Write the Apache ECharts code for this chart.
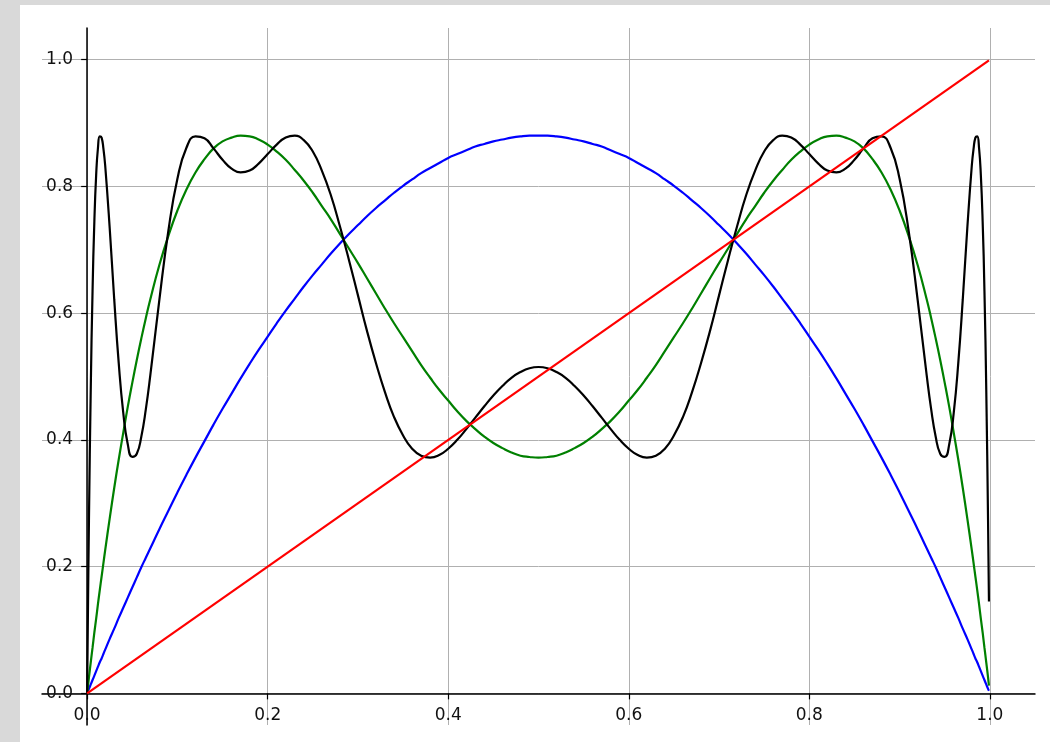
<!DOCTYPE html>
<html>
<head>
<meta charset="utf-8">
<title>Logistic map iterates</title>
<script src="https://cdn.jsdelivr.net/npm/echarts@6/dist/echarts.min.js"></script>
<style>
  html, body { margin: 0; padding: 0; background: #d9d9d9; }
  #chart { position: absolute; left: 20px; top: 5px; width: 1030px; height: 737px; background: #ffffff; }
</style>
</head>
<body>
<div id="chart"></div>
<script>
// Sample positions on [0, 1)
const xs = [
  0, 0.001, 0.002, 0.004, 0.006, 0.008, 0.01, 0.012, 0.014, 0.016, 0.018, 0.02,
  0.025, 0.03, 0.035, 0.04, 0.045, 0.05, 0.055, 0.06, 0.065,
  0.07, 0.08, 0.09, 0.1, 0.11, 0.12, 0.13, 0.14, 0.15, 0.16, 0.17, 0.18, 0.19, 0.2,
  0.21, 0.22, 0.23, 0.24, 0.25, 0.26, 0.27, 0.28, 0.29, 0.3, 0.31, 0.32, 0.33, 0.34, 0.35,
  0.36, 0.37, 0.38, 0.39, 0.4, 0.41, 0.42, 0.43, 0.44, 0.45, 0.46, 0.47, 0.48, 0.49, 0.5,
  0.51, 0.52, 0.53, 0.54, 0.55, 0.56, 0.57, 0.58, 0.59, 0.6, 0.61, 0.62, 0.63, 0.64, 0.65,
  0.66, 0.67, 0.68, 0.69, 0.7, 0.71, 0.72, 0.73, 0.74, 0.75, 0.76, 0.77, 0.78, 0.79, 0.8,
  0.81, 0.82, 0.83, 0.84, 0.85, 0.86, 0.87, 0.88, 0.89, 0.9, 0.91, 0.92, 0.93,
  0.935, 0.94, 0.945, 0.95, 0.955, 0.96, 0.965, 0.97, 0.975,
  0.98, 0.982, 0.984, 0.986, 0.988, 0.99, 0.992, 0.994, 0.996, 0.998, 0.999
];

// One step of the map (blue)
const mapOnce = [
  0, 0.004, 0.007, 0.014, 0.021, 0.028, 0.035, 0.042, 0.049, 0.055, 0.062, 0.069,
  0.086, 0.102, 0.119, 0.135, 0.151, 0.167, 0.183, 0.199, 0.214,
  0.229, 0.259, 0.288, 0.317, 0.345, 0.372, 0.398, 0.424, 0.449, 0.473, 0.497, 0.520, 0.542, 0.563,
  0.584, 0.604, 0.623, 0.642, 0.660, 0.677, 0.694, 0.710, 0.725, 0.739, 0.753, 0.766, 0.778, 0.790, 0.801,
  0.811, 0.821, 0.829, 0.837, 0.845, 0.851, 0.857, 0.863, 0.867, 0.871, 0.874, 0.877, 0.879, 0.880, 0.880,
  0.880, 0.879, 0.877, 0.874, 0.871, 0.867, 0.863, 0.857, 0.851, 0.845, 0.837, 0.829, 0.821, 0.811, 0.801,
  0.790, 0.778, 0.766, 0.753, 0.739, 0.725, 0.710, 0.694, 0.677, 0.660, 0.642, 0.623, 0.604, 0.584, 0.563,
  0.542, 0.520, 0.497, 0.473, 0.449, 0.424, 0.398, 0.372, 0.345, 0.317, 0.288, 0.259, 0.229,
  0.214, 0.199, 0.183, 0.167, 0.151, 0.135, 0.119, 0.102, 0.086,
  0.069, 0.062, 0.055, 0.049, 0.042, 0.035, 0.028, 0.021, 0.014, 0.007, 0.004
];

// Two steps (green)
const mapTwice = [
  0, 0.012, 0.025, 0.049, 0.072, 0.096, 0.118, 0.141, 0.163, 0.184, 0.205, 0.226,
  0.276, 0.324, 0.369, 0.411, 0.452, 0.490, 0.526, 0.560, 0.592,
  0.622, 0.676, 0.722, 0.762, 0.795, 0.822, 0.843, 0.860, 0.871, 0.877, 0.880, 0.879, 0.874, 0.866,
  0.855, 0.842, 0.826, 0.809, 0.790, 0.769, 0.748, 0.725, 0.702, 0.679, 0.655, 0.631, 0.607, 0.584, 0.562,
  0.540, 0.518, 0.498, 0.479, 0.462, 0.445, 0.430, 0.417, 0.405, 0.395, 0.387, 0.380, 0.375, 0.373, 0.372,
  0.373, 0.375, 0.380, 0.387, 0.395, 0.405, 0.417, 0.430, 0.445, 0.462, 0.479, 0.498, 0.518, 0.540, 0.562,
  0.584, 0.607, 0.631, 0.655, 0.679, 0.702, 0.725, 0.748, 0.769, 0.790, 0.809, 0.826, 0.842, 0.855, 0.866,
  0.874, 0.879, 0.880, 0.877, 0.871, 0.860, 0.843, 0.822, 0.795, 0.762, 0.722, 0.676, 0.622,
  0.592, 0.560, 0.526, 0.490, 0.452, 0.411, 0.369, 0.324, 0.276,
  0.226, 0.205, 0.184, 0.163, 0.141, 0.118, 0.096, 0.072, 0.049, 0.025, 0.012
];

// Four steps (black)
const mapFourTimes = [
  0, 0.145, 0.272, 0.480, 0.635, 0.745, 0.818, 0.861, 0.879, 0.877, 0.860, 0.833,
  0.734, 0.622, 0.521, 0.443, 0.393, 0.373, 0.378, 0.405, 0.448,
  0.502, 0.621, 0.730, 0.812, 0.861, 0.879, 0.876, 0.860, 0.842, 0.828, 0.822, 0.825, 0.836, 0.851,
  0.866, 0.877, 0.880, 0.873, 0.855, 0.825, 0.786, 0.737, 0.684, 0.628, 0.572, 0.521, 0.475, 0.436, 0.407,
  0.386, 0.375, 0.372, 0.376, 0.386, 0.400, 0.417, 0.435, 0.453, 0.470, 0.485, 0.498, 0.507, 0.513, 0.515,
  0.513, 0.507, 0.498, 0.485, 0.470, 0.453, 0.435, 0.417, 0.400, 0.386, 0.376, 0.372, 0.375, 0.386, 0.407,
  0.436, 0.475, 0.521, 0.572, 0.628, 0.684, 0.737, 0.786, 0.825, 0.855, 0.873, 0.880, 0.877, 0.866, 0.851,
  0.836, 0.825, 0.822, 0.828, 0.842, 0.860, 0.876, 0.879, 0.861, 0.812, 0.730, 0.621, 0.502,
  0.448, 0.405, 0.378, 0.373, 0.393, 0.443, 0.521, 0.622, 0.734,
  0.833, 0.860, 0.877, 0.879, 0.861, 0.818, 0.745, 0.635, 0.480, 0.272, 0.145
];

// Diagonal y = x (red)
const diagX = [0, 0.999];
const diagY = [0, 0.999];

const tickValues = [0, 0.2, 0.4, 0.6, 0.8, 1.0];

function pairs(xv, yv) {
  return xv.map((x, i) => [x, yv[i]]);
}

const axisFont = { fontFamily: 'DejaVu Sans', fontSize: 17, color: '#111111' };

// Spines sit at zero: shift each axis inward by the 0.05 padding of the range
function makeAxis(isX) {
  return {
    type: 'value',
    min: -0.05,
    max: 1.05,
    offset: isX ? -31.65 : -45.15,
    axisLine: { show: true, onZero: false, lineStyle: { color: '#000000', width: 1.5 } },
    axisTick: {
      show: true, inside: false, length: 6, customValues: tickValues,
      lineStyle: { color: '#000000', width: 1.2 }
    },
    axisLabel: Object.assign({
      show: true,
      customValues: tickValues,
      margin: isX ? 14 : 14,
      formatter: v => v.toFixed(1)
    }, axisFont),
    splitLine: { show: true, lineStyle: { color: '#b0b0b0', width: 1 } }
  };
}

const chart = echarts.init(document.getElementById('chart'), null, { renderer: 'canvas' });

const lineBase = { type: 'line', showSymbol: false, symbol: 'none', smooth: 0.5, animation: false };

chart.setOption({
  animation: false,
  backgroundColor: '#ffffff',
  grid: { left: 22, right: 15, top: 23, bottom: 17, containLabel: false, outerBoundsMode: 'none' },
  xAxis: makeAxis(true),
  yAxis: makeAxis(false),
  series: [
    Object.assign({}, lineBase, { name: 'f', data: pairs(xs, mapOnce), lineStyle: { color: '#0000ff', width: 2.2 }, z: 2 }),
    Object.assign({}, lineBase, { name: 'f2', data: pairs(xs, mapTwice), lineStyle: { color: '#008000', width: 2.2 }, z: 3 }),
    Object.assign({}, lineBase, { name: 'f4', data: pairs(xs, mapFourTimes), lineStyle: { color: '#000000', width: 2.2 }, z: 4 }),
    Object.assign({}, lineBase, { name: 'y=x', smooth: false, data: pairs(diagX, diagY), lineStyle: { color: '#ff0000', width: 2.2 }, z: 5 })
  ]
});
</script>
</body>
</html>
